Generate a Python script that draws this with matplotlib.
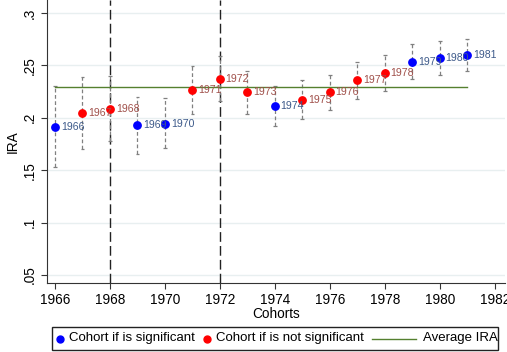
import matplotlib
matplotlib.use("Agg")
import matplotlib.pyplot as plt
import numpy as np
from matplotlib.lines import Line2D
from matplotlib.patches import Rectangle

plt.rcParams['font.family'] = ['Liberation Sans', 'DejaVu Sans']

# cohort estimates
cohorts = [1966, 1967, 1968, 1969, 1970, 1971, 1972, 1973,
           1974, 1975, 1976, 1977, 1978, 1979, 1980, 1981]
ira = [0.1914, 0.2050, 0.2086, 0.1927, 0.1943, 0.2267, 0.2375, 0.2248,
       0.2115, 0.2172, 0.2245, 0.2356, 0.2429, 0.2534, 0.2570, 0.2598]
ci_hi = [0.2305, 0.2394, 0.2400, 0.2203, 0.2188, 0.2499, 0.2585, 0.2451,
         0.2305, 0.2356, 0.2413, 0.2531, 0.2595, 0.2703, 0.2735, 0.2754]
ci_lo = [0.1530, 0.1707, 0.1778, 0.1654, 0.1710, 0.2035, 0.2165, 0.2038,
         0.1924, 0.1988, 0.2070, 0.2179, 0.2260, 0.2372, 0.2410, 0.2442]
significant = [True, False, False, True, True, False, False, False,
               True, False, False, False, False, True, True, True]
avg_ira = 0.2296
vlines = [1968, 1972]
xticks = [1966, 1968, 1970, 1972, 1974, 1976, 1978, 1980, 1982]
yticks = [0.05, 0.1, 0.15, 0.2, 0.25, 0.3]
ytick_labels = ['.05', '.1', '.15', '.2', '.25', '.3']
legend_labels = ['Cohort if is significant', 'Cohort if is not significant', 'Average IRA']

W, H = 507, 352
fig = plt.figure(figsize=(W / 100, H / 100), dpi=100)
ax = fig.add_axes([47 / W, 1 - 283 / H, 458 / W, 283 / H])

x = np.array(cohorts)
y = np.array(ira)
sig = np.array(significant)

for yt in yticks:
    ax.axhline(yt, color='#e8eff0', lw=1.0, zorder=0)

for xv in vlines:
    ax.axvline(xv, color='#222222', lw=1.0, ls=(0, (7, 3)), zorder=1)

# confidence intervals
ax.vlines(x, ci_lo, ci_hi, colors='#808080', lw=0.9, linestyles=(0, (3, 2)), zorder=2)
ax.hlines(ci_hi, x - 0.07, x + 0.07, colors='#808080', lw=0.9, zorder=2)
ax.hlines(ci_lo, x - 0.07, x + 0.07, colors='#808080', lw=0.9, zorder=2)

green = '#55802f'
ax.plot([cohorts[0], cohorts[-1]], [avg_ira, avg_ira], color=green, lw=1.0, zorder=3)

ax.scatter(x[sig], y[sig], s=28, color='#0000ff', zorder=4)
ax.scatter(x[~sig], y[~sig], s=28, color='#ff0000', zorder=4)

for c, v, s in zip(cohorts, ira, significant):
    ax.text(c + 0.21, v, str(c), fontsize=7.6, va='center', ha='left',
            color='#3d5a8a' if s else '#a0504a', zorder=5)

ax.set_xlim(1965.71, 1982.37)
ax.set_ylim(0.0424, 0.3124)
ax.set_xticks(xticks)
ax.set_yticks(yticks)
ax.set_yticklabels(ytick_labels, rotation=90, va='center')
ax.tick_params(labelsize=9.8, length=4, color='#333333')
ax.set_xlabel('Cohorts', fontsize=9.8, labelpad=0)
ax.set_ylabel('IRA', fontsize=9.8)
ax.yaxis.set_label_coords(-0.059, 0.5)
for side in ['top', 'right']:
    ax.spines[side].set_visible(False)
for side in ['left', 'bottom']:
    ax.spines[side].set_color('#333333')

# legend box drawn by hand (Stata style)
def fx(px):
    return px / W

def fy(py):
    return 1 - py / H

ly = 338.5
fig.patches.append(Rectangle((fx(52), fy(350)), fx(498) - fx(52), fy(327) - fy(350),
                             transform=fig.transFigure, fill=False,
                             edgecolor='#222222', lw=1.0))
fig.lines.append(Line2D([fx(60)], [fy(ly)], marker='o', color='#0000ff', markersize=5,
                        transform=fig.transFigure))
fig.text(fx(69), fy(ly), legend_labels[0], fontsize=9.5, va='center', ha='left')
fig.lines.append(Line2D([fx(207)], [fy(ly)], marker='o', color='#ff0000', markersize=5,
                        transform=fig.transFigure))
fig.text(fx(216), fy(ly), legend_labels[1], fontsize=9.5, va='center', ha='left')
fig.lines.append(Line2D([fx(372), fx(416)], [fy(ly), fy(ly)], color=green, lw=1.0,
                        transform=fig.transFigure))
fig.text(fx(423), fy(ly), legend_labels[2], fontsize=9.5, va='center', ha='left')

fig.savefig('out.png', dpi=100)
